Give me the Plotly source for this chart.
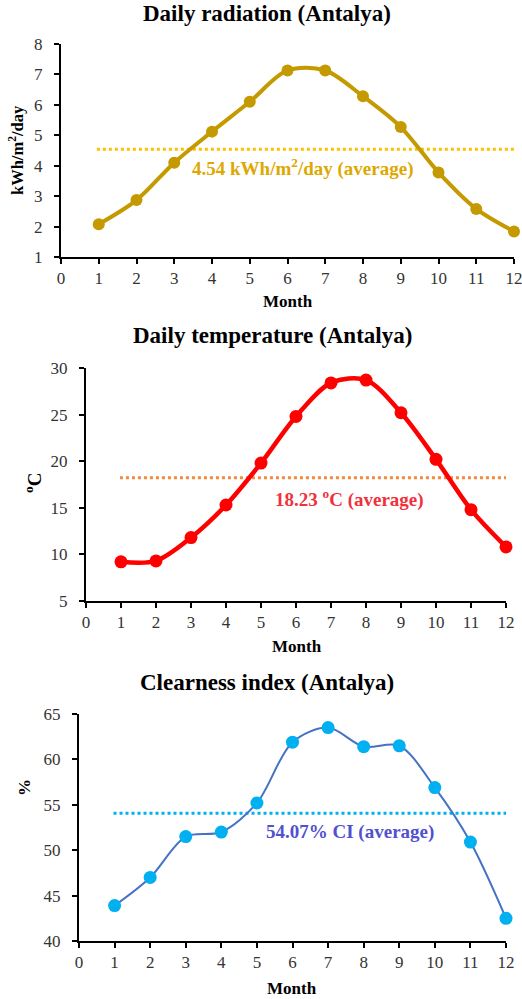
import plotly.graph_objects as go

months = list(range(1, 13))
radiation = [2.08, 2.87, 4.10, 5.12, 6.10, 7.13, 7.13, 6.28, 5.27, 3.78, 2.58, 1.84]
temperature = [9.2, 9.3, 11.8, 15.3, 19.8, 24.8, 28.4, 28.7, 25.2, 20.2, 14.8, 10.8]
clearness = [43.9, 47.0, 51.5, 52.0, 55.2, 61.9, 63.5, 61.4, 61.5, 56.9, 50.9, 42.5]
avg_radiation = 4.54
avg_temperature = 18.23
avg_clearness = 54.07

W, H = 522, 999
FONT = "Liberation Serif, Times New Roman, serif"

def px(x):
    return x / W

def py(y):
    return 1 - y / H

fig = go.Figure()

panels = [
    dict(vals=radiation, avg=avg_radiation, line="#C49A00", marker="#C49A00", lw=4, ms=12,
         avgc="#FFC000", xd=(61, 514), yd=(44, 257), yr=(1, 8), dt=1, ax=("x", "y"),
         avg_x0=0.95),
    dict(vals=temperature, avg=avg_temperature, line="#FF0000", marker="#FF0000", lw=4.5, ms=13,
         avgc="#F58A3C", xd=(86, 506), yd=(368, 601), yr=(5, 30), dt=5, ax=("x2", "y2"),
         avg_x0=0.97),
    dict(vals=clearness, avg=avg_clearness, line="#4472C4", marker="#00B0F0", lw=2, ms=13,
         avgc="#00B0F0", xd=(79, 506), yd=(714, 941), yr=(40, 65), dt=5, ax=("x3", "y3"),
         avg_x0=0.97),
]

for i, p in enumerate(panels):
    xa, ya = p["ax"]
    fig.add_trace(go.Scatter(
        x=[p["avg_x0"], months[-1]], y=[p["avg"], p["avg"]], mode="lines",
        line=dict(color=p["avgc"], width=3, dash="dot"), xaxis=xa, yaxis=ya,
        showlegend=False, hoverinfo="skip"))
    fig.add_trace(go.Scatter(
        x=months, y=p["vals"], mode="lines+markers",
        line=dict(color=p["line"], width=p["lw"], shape="spline", smoothing=0.9),
        marker=dict(color=p["marker"], size=p["ms"]),
        xaxis=xa, yaxis=ya, showlegend=False, cliponaxis=False))
    suffix = "" if i == 0 else str(i + 1)
    fig.layout["xaxis" + suffix] = dict(
        domain=[px(p["xd"][0]), px(p["xd"][1])], range=[0, 12], dtick=1, tick0=0,
        showline=True, linecolor="black", linewidth=2, ticks="outside", ticklen=5,
        tickcolor="black", tickwidth=2, showgrid=False, zeroline=False,
        anchor="y" + suffix, tickfont=dict(family=FONT, size=17, color="#333"),
        ticklabelstandoff=0, ticklabeloverflow="allow",
        fixedrange=True, automargin=False)
    fig.layout["yaxis" + suffix] = dict(
        domain=[py(p["yd"][1]), py(p["yd"][0])], range=list(p["yr"]), dtick=p["dt"],
        showline=True, linecolor="black", linewidth=2, ticks="outside", ticklen=5,
        tickcolor="black", tickwidth=2, showgrid=False, zeroline=False,
        anchor="x" + suffix, tickfont=dict(family=FONT, size=17, color="#333"),
        ticklabelstandoff=8, ticklabeloverflow="allow",
        fixedrange=True, automargin=False)

ann = []
def add(text, x, y, size, color="black", angle=0):
    ann.append(dict(text=text, x=px(x), y=py(y), xref="paper", yref="paper",
                    showarrow=False, textangle=angle, xanchor="center", yanchor="middle",
                    font=dict(family=FONT, size=size, color=color)))

add("<b>Daily radiation (Antalya)</b>", 267, 13, 23)
add("<b>Daily temperature (Antalya)</b>", 272, 335, 23)
add("<b>Clearness index (Antalya)</b>", 267, 682, 23)

add("<b>Month</b>", 288, 301, 17)
add("<b>Month</b>", 297, 646, 17)
add("<b>Month</b>", 292, 988, 17)

add("<b>kWh/m<sup>2</sup>/day</b>", 17, 150, 16.5, angle=-90)
add("<b><sup>o</sup>C</b>", 33, 483, 19, angle=-90)
add("<b>%</b>", 24, 788, 17, angle=-90)

add("<b>%.2f kWh/m<sup>2</sup>/day (average)</b>" % avg_radiation, 302, 167, 19, color="#DDA800")
add("<b>%.2f <sup>o</sup>C (average)</b>" % avg_temperature, 349, 498, 19, color="#F0303C")
add("<b>%.2f%% CI (average)</b>" % avg_clearness, 350, 832, 19, color="#5050D0")

fig.update_layout(
    template="none",
    width=W, height=H, margin=dict(l=0, r=0, t=0, b=0, pad=0), autosize=False,
    paper_bgcolor="white", plot_bgcolor="white", annotations=ann,
    font=dict(family=FONT),
)

fig.write_html("out.html", config={"displayModeBar": False},
               post_script="document.body.style.margin='0';document.body.style.overflow='hidden';")
